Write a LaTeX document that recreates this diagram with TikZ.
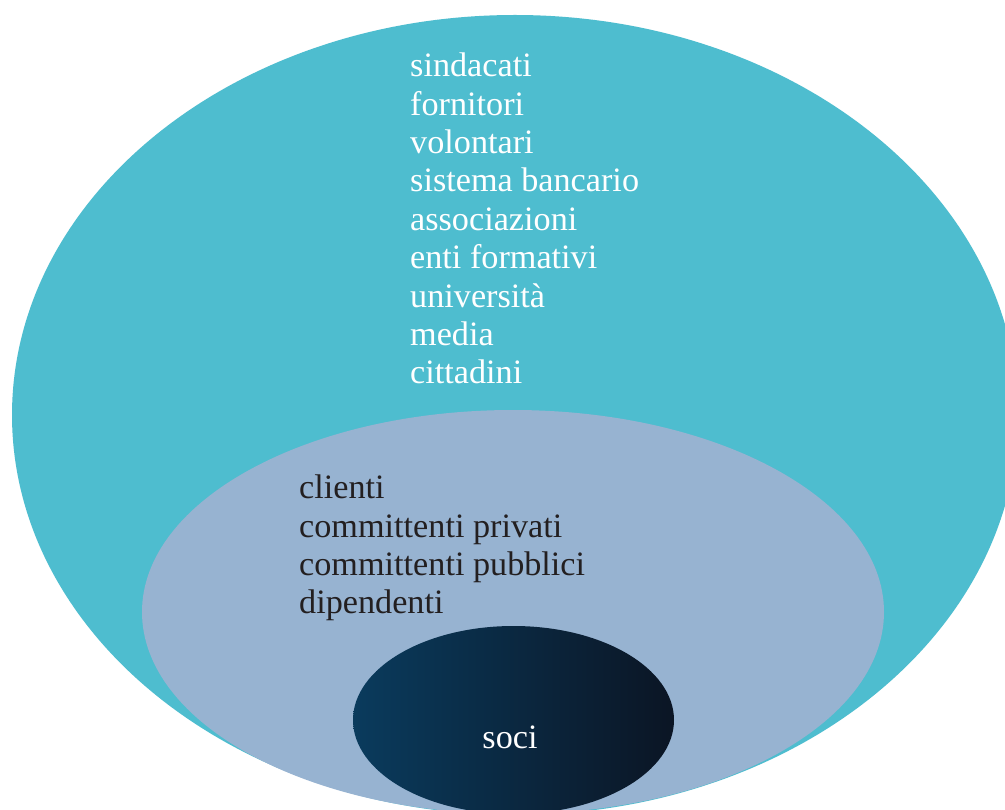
\documentclass[tikz,border=0pt]{standalone}
\usepackage{fontspec}
\setmainfont{Liberation Serif}
\usepackage{xcolor}
\usetikzlibrary{positioning,calc}

\definecolor{outerC}{HTML}{4EBDCF}
\definecolor{midC}{HTML}{97B3D1}
\definecolor{sociL}{HTML}{0A3B5D}
\definecolor{sociR}{HTML}{0B1524}
\definecolor{inkC}{HTML}{231F20}

\begin{document}
\begin{tikzpicture}[
				x=1pt,y=-1pt,
				line cap=round,line join=round,
				lbl/.style={anchor=base west, inner sep=0pt, font=\fontsize{34.2}{38}\selectfont}
				]
				%----- parameters
				\def\lineH{38.4}     % line spacing
				\def\outX{410}       % left edge, outer list
				\def\midX{299}       % left edge, middle list
				
				% picture frame (ellipses run past the right and bottom edge)
				\clip (0,0) rectangle (1005,810);
				\fill[white] (0,0) rectangle (1005,810);
				
				%----- three nested ellipses
				\fill[outerC] (515,415) ellipse [x radius=503, y radius=400];
				\fill[midC]   (513,612) ellipse [x radius=371, y radius=202];
				\shade[left color=sociL, right color=sociR]
				(513.5,720) ellipse [x radius=160.5, y radius=94];
				
				%----- outer ring: white list
				\foreach \t [count=\i] in {sindacati,fornitori,volontari,sistema bancario,associazioni,enti formativi,università,media,cittadini}{
					\node[lbl, text=white] (ext\i) at (\outX,{38.3+\i*\lineH}) {\t};
				}
				
				%----- middle ring: dark list
				\foreach \t [count=\i] in {clienti,committenti privati,committenti pubblici,dipendenti}{
					\node[lbl, text=inkC] (int\i) at (\midX,{460.3+\i*\lineH}) {\t};
				}
				
				%----- core
				\node[lbl, anchor=base, text=white] (soci) at (510,748) {soci};
				
			\end{tikzpicture}
\end{document}
